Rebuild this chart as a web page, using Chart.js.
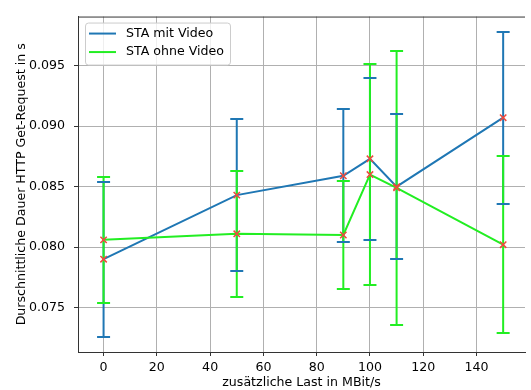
<!DOCTYPE html>
<html>
<head>
<meta charset="utf-8">
<script src="https://cdn.jsdelivr.net/npm/chart.js@4/dist/chart.umd.min.js"></script>
<style>
  html, body { margin: 0; padding: 0; background: #fff; }
  #wrap { width: 531px; height: 390px; }
</style>
</head>
<body>
<div id="wrap"><canvas id="myChart" width="531" height="390"></canvas></div>
<script>
// data
var loads = [0, 50, 90, 100, 110, 150];
var mitVideo = [0.0790, 0.0843, 0.0859, 0.0873, 0.0850, 0.0907];
var mitVideoErr = [0.0064, 0.0063, 0.0055, 0.0067, 0.0060, 0.0071];
var ohneVideo = [0.0806, 0.0811, 0.0810, 0.0860, 0.0849, 0.0802];
var ohneVideoErr = [0.0052, 0.0052, 0.0045, 0.0091, 0.0113, 0.0073];
var xTicks = [0, 20, 40, 60, 80, 100, 120, 140];
var yTicks = [0.075, 0.080, 0.085, 0.090, 0.095];

var blue = '#1f77b4';
var green = '#22ee22';
var red = '#f04a3c';
var font = "'DejaVu Sans', sans-serif";
var fsize = 12.6;

function pts(ys) {
  return loads.map(function (x, i) { return {x: x, y: ys[i]}; });
}

// error bars: vertical lines first, caps on top
var errorBars = {
  id: 'errorBars',
  beforeDatasetsDraw: function (chart) {
    var ctx = chart.ctx, xs = chart.scales.x, ys = chart.scales.y;
    var sets = [[mitVideo, mitVideoErr, blue], [ohneVideo, ohneVideoErr, green]];
    ctx.save();
    ctx.beginPath();
    ctx.rect(chart.chartArea.left, chart.chartArea.top, chart.chartArea.right - chart.chartArea.left, chart.chartArea.bottom - chart.chartArea.top);
    ctx.clip();
    ctx.lineWidth = 2;
    sets.forEach(function (s) {
      ctx.strokeStyle = s[2];
      loads.forEach(function (x, i) {
        var px = xs.getPixelForValue(x);
        ctx.beginPath();
        ctx.moveTo(px, ys.getPixelForValue(s[0][i] - s[1][i]));
        ctx.lineTo(px, ys.getPixelForValue(s[0][i] + s[1][i]));
        ctx.stroke();
      });
    });
    sets.forEach(function (s) {
      ctx.strokeStyle = s[2];
      loads.forEach(function (x, i) {
        var px = xs.getPixelForValue(x);
        [s[0][i] - s[1][i], s[0][i] + s[1][i]].forEach(function (v) {
          var py = Math.round(ys.getPixelForValue(v));
          ctx.beginPath();
          ctx.moveTo(px - 6.5, py);
          ctx.lineTo(px + 6.5, py);
          ctx.stroke();
        });
      });
    });
    ctx.restore();
  },
  afterDraw: function (chart) {
    // top spine + legend box
    var ctx = chart.ctx, a = chart.chartArea;
    ctx.save();
    ctx.strokeStyle = '#333';
    ctx.lineWidth = 1;
    ctx.beginPath();
    ctx.moveTo(a.left, a.top + 0.5);
    ctx.lineTo(a.right, a.top + 0.5);
    ctx.stroke();

    var lx = a.left + 7, ly = a.top + 6;
    ctx.fillStyle = 'rgba(255,255,255,0.8)';
    ctx.strokeStyle = '#cccccc';
    ctx.beginPath();
    ctx.roundRect(lx + 0.5, ly + 0.5, 145, 42, 3);
    ctx.fill();
    ctx.stroke();
    var items = [['STA mit Video', blue], ['STA ohne Video', green]];
    ctx.font = fsize + 'px ' + font;
    ctx.textBaseline = 'middle';
    items.forEach(function (it, i) {
      var y = ly + 11 + i * 18.5;
      ctx.strokeStyle = it[1];
      ctx.lineWidth = 2;
      ctx.beginPath();
      ctx.moveTo(lx + 4, y);
      ctx.lineTo(lx + 31, y);
      ctx.stroke();
      ctx.fillStyle = '#000';
      ctx.fillText(it[0], lx + 41, y);
    });
    ctx.restore();
  }
};

new Chart(document.getElementById('myChart'), {
  type: 'line',
  data: {
    datasets: [
      {
        label: 'STA mit Video',
        data: pts(mitVideo),
        borderColor: blue,
        borderWidth: 2,
        pointStyle: 'crossRot',
        pointRadius: 4.5,
        pointBorderWidth: 1.5,
        pointBorderColor: red,
        pointBackgroundColor: red,
        tension: 0,
        order: 2
      },
      {
        label: 'STA ohne Video',
        data: pts(ohneVideo),
        borderColor: green,
        borderWidth: 2,
        pointStyle: 'crossRot',
        pointRadius: 4.5,
        pointBorderWidth: 1.5,
        pointBorderColor: red,
        pointBackgroundColor: red,
        tension: 0,
        order: 1
      }
    ]
  },
  options: {
    responsive: false,
    animation: false,
    layout: { padding: { top: 11, right: 0, left: 0, bottom: 0 } },
    plugins: { legend: { display: false }, tooltip: { enabled: false } },
    scales: {
      x: {
        type: 'linear',
        min: -9.6,
        max: 158.2,
        afterFit: function (s) { s.height = 38; },
        afterBuildTicks: function (s) { s.ticks = xTicks.map(function (v) { return {value: v}; }); },
        grid: { color: '#b0b0b0', lineWidth: 1, tickColor: '#333', tickLength: 4 },
        border: { color: '#333', width: 1 },
        ticks: { color: '#000', padding: 4, maxRotation: 0, font: { family: font, size: fsize } },
        title: {
          display: true,
          text: 'zusätzliche Last in MBit/s',
          color: '#000',
          font: { family: font, size: fsize },
          padding: { top: 0, bottom: 0 }
        }
      },
      y: {
        min: 0.07133,
        max: 0.09906,
        afterFit: function (s) { s.width = 78; },
        afterBuildTicks: function (s) { s.ticks = yTicks.map(function (v) { return {value: v}; }); },
        grid: { color: '#b0b0b0', lineWidth: 1, tickColor: '#333', tickLength: 4 },
        border: { color: '#333', width: 1 },
        ticks: {
          color: '#000',
          padding: 9,
          font: { family: font, size: fsize },
          callback: function (v) { return Number(v).toFixed(3); }
        },
        title: {
          display: true,
          text: 'Durschnittliche Dauer HTTP Get-Request in s',
          color: '#000',
          font: { family: font, size: fsize },
          padding: { top: 14, bottom: 0 }
        }
      }
    }
  },
  plugins: [errorBars]
});
</script>
</body>
</html>
